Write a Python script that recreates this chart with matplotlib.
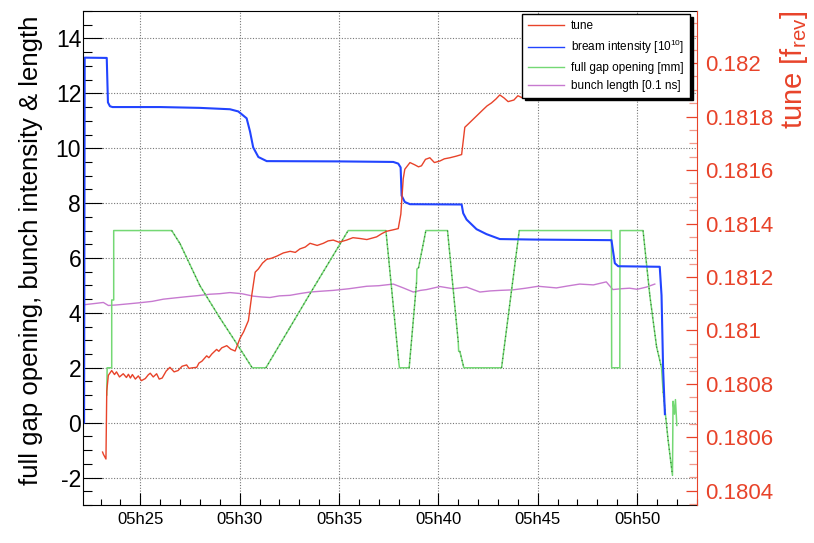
import matplotlib
matplotlib.use("Agg")
import matplotlib.pyplot as plt
from matplotlib.lines import Line2D
from matplotlib.ticker import MultipleLocator, FuncFormatter

plt.rcParams['font.family'] = ['Liberation Sans', 'DejaVu Sans']
plt.rcParams['mathtext.default'] = 'regular'
plt.rcParams['axes.unicode_minus'] = False

# =========================
# data (time in minutes after 05h00)
# =========================
blue_t = [22.17, 22.2, 23.31, 23.37, 23.47, 23.6, 26.0, 28.0, 29.51, 29.93, 30.35,
          30.52, 30.68, 30.94, 31.36, 35.0, 37.73, 37.98, 38.1, 38.15, 38.31,
          38.57, 41.17, 41.25, 41.42, 41.92, 42.42, 43.09, 45.0, 48.71, 48.88,
          49.05, 51.14, 51.23, 51.31, 51.40]
blue_v = [0.0, 13.3, 13.29, 11.67, 11.53, 11.5, 11.5, 11.47, 11.42, 11.34, 11.09,
          10.61, 10.03, 9.68, 9.53, 9.52, 9.5, 9.44, 9.3, 8.27, 8.04,
          7.96, 7.95, 7.63, 7.40, 7.05, 6.87, 6.69, 6.67, 6.65, 5.81,
          5.70, 5.68, 4.64, 1.95, 0.31]

green_t = [23.31, 23.33, 23.56, 23.56, 23.66, 23.66, 26.58, 27.0, 28.0, 29.0, 29.85,
           30.63, 31.32, 32.53, 33.54, 35.46, 37.36, 38.01, 38.04, 38.53, 38.9,
           38.92, 39.0, 39.37, 40.46, 41.0, 41.02, 41.08, 41.28, 43.18, 44.07,
           48.71, 48.72, 49.13, 49.14, 50.30, 50.64, 50.98, 51.23, 51.31, 51.56,
           51.78, 51.81, 51.88, 51.93, 52.0]
green_v = [1.01, 2.0, 2.0, 4.47, 4.47, 7.0, 7.0, 6.52, 4.99, 3.82, 2.88,
           2.0, 2.0, 3.47, 4.70, 7.0, 7.0, 2.18, 2.0, 2.0, 5.1,
           5.6, 5.64, 7.0, 7.0, 2.94, 2.6, 2.6, 2.0, 2.0, 7.0,
           7.0, 2.0, 2.0, 7.0, 7.0, 4.64, 2.77, 2.0, 1.13, -0.63,
           -1.92, 0.78, 0.31, 0.84, -0.1]

purple_t = [22.2, 22.8, 23.14, 23.39, 23.81, 24.4, 24.98, 25.6, 26.16, 26.8, 27.33,
            27.9, 28.5, 29.0, 29.51, 30.1, 30.68, 31.1, 31.52, 32.0, 32.53, 33.0,
            33.54, 34.1, 34.71, 35.5, 36.39, 37.0, 37.73, 38.2, 38.74, 39.1, 39.41,
            40.08, 40.75, 41.42, 42.09, 42.6, 43.09, 43.76, 44.4, 45.02, 45.94,
            46.5, 47.11, 47.8, 48.45, 48.78, 49.2, 49.62, 50.0, 50.47, 50.89]
purple_v = [4.30, 4.35, 4.38, 4.27, 4.29, 4.33, 4.37, 4.42, 4.50, 4.55, 4.59,
            4.63, 4.68, 4.70, 4.74, 4.70, 4.61, 4.58, 4.56, 4.62, 4.64, 4.70,
            4.76, 4.79, 4.82, 4.88, 4.97, 4.99, 5.05, 4.92, 4.76, 4.82, 4.85,
            4.96, 4.88, 4.94, 4.76, 4.80, 4.82, 4.84, 4.90, 4.97, 4.91,
            4.98, 5.05, 5.02, 5.13, 4.85, 4.88, 4.90, 4.86, 4.94, 5.05]

tune_t = [23.10, 23.14, 23.27, 23.31, 23.39, 23.56, 23.7, 23.8, 23.95, 24.14, 24.3,
          24.4, 24.5, 24.6, 24.75, 24.9, 25.05, 25.25, 25.4, 25.5, 25.65, 25.82,
          25.95, 26.1, 26.3, 26.49, 26.7, 26.9, 27.1, 27.33, 27.45, 27.6, 27.84,
          27.95, 28.1, 28.34, 28.45, 28.6, 28.84, 28.95, 29.1, 29.35, 29.55, 29.77,
          30.02, 30.2, 30.44, 30.61, 30.78, 30.94, 31.15, 31.36, 31.6, 31.87,
          32.2, 32.54, 32.8, 33.03, 33.3, 33.54, 33.9, 34.21, 34.45, 34.71,
          35.0, 35.38, 35.7, 36.05, 36.4, 36.89, 37.15, 37.39, 37.7, 37.98,
          38.11, 38.23, 38.31, 38.57, 38.8, 39.0, 39.15, 39.35, 39.57, 39.8,
          40.08, 40.3, 40.58, 40.9, 41.17, 41.33, 41.5, 41.75, 42.0, 42.25,
          42.45, 42.67, 42.9, 43.09, 43.3, 43.51, 43.8, 44.0, 44.26, 44.6,
          45.02, 45.2, 45.44, 45.7, 46.03, 46.28, 46.53, 46.8]
tune_v = [0.180545, 0.180537, 0.180519, 0.180772, 0.180832, 0.180850, 0.180835, 0.180845, 0.180826, 0.180838, 0.180824,
          0.180836, 0.180822, 0.180835, 0.180818, 0.180830, 0.180812, 0.180820, 0.180834, 0.180840, 0.180826, 0.180838,
          0.180818, 0.180822, 0.180848, 0.180862, 0.180845, 0.180850, 0.180866, 0.180871, 0.180858, 0.180860, 0.180862,
          0.180878, 0.180885, 0.180905, 0.180898, 0.180912, 0.180929, 0.180922, 0.180935, 0.180943, 0.180930, 0.180923,
          0.180971, 0.180995, 0.181037, 0.181133, 0.181218, 0.181230, 0.181252, 0.181266, 0.181270, 0.181278,
          0.181290, 0.181296, 0.181292, 0.181305, 0.181312, 0.181326, 0.181318, 0.181326, 0.181335, 0.181338,
          0.181330, 0.181338, 0.181347, 0.181344, 0.181340, 0.181350, 0.181362, 0.181371, 0.181376, 0.181381,
          0.181435, 0.181567, 0.181603, 0.181628, 0.181620, 0.181612, 0.181616, 0.181640, 0.181646, 0.181628,
          0.181634, 0.181642, 0.181646, 0.181652, 0.181658, 0.181760, 0.181772, 0.181790, 0.181808, 0.181826,
          0.181840, 0.181851, 0.181866, 0.181881, 0.181870, 0.181856, 0.181862, 0.181878, 0.181869, 0.181882,
          0.181905, 0.181896, 0.181887, 0.181902, 0.181923, 0.181887, 0.181917, 0.181935]

legend_labels = ['tune', 'bream intensity [10$^{10}$]', 'full gap opening [mm]', 'bunch length [0.1 ns]']

RED = '#e8432a'
BLUE = '#2244ff'
GREEN = '#74d874'
PURPLE = '#c77ad0'

# =========================
# figure
# =========================
fig = plt.figure(figsize=(8.14, 5.43), dpi=100)
ax = fig.add_axes([83.3 / 814, 1 - 505 / 543, 613.4 / 814, 494 / 543])
ax2 = ax.twinx()

ax.plot(purple_t, purple_v, color=PURPLE, lw=1.0)
ax.plot(green_t, green_v, color=GREEN, lw=1.1)
# sloped parts of the gap trace look dotted-dark in the original
for i in range(len(green_t) - 1):
    dt = green_t[i + 1] - green_t[i]
    dv = green_v[i + 1] - green_v[i]
    if dt > 0.1 and abs(dv) > 0.3:
        ax.plot(green_t[i:i + 2], green_v[i:i + 2], color='#2d6e2d',
                lw=0.8, linestyle=(0, (1, 3)))
ax.plot(blue_t, blue_v, color=BLUE, lw=1.5)
ax2.plot(tune_t, tune_v, color=RED, lw=1.0)

ax.set_xlim(22.13, 53.0)
ax.set_ylim(-3, 15)
ax2.set_ylim(0.180347, 0.182195)

ax.xaxis.set_major_locator(MultipleLocator(5))
ax.xaxis.set_minor_locator(MultipleLocator(1))
ax.xaxis.set_major_formatter(FuncFormatter(lambda v, p: '05h%02d' % v))
ax.yaxis.set_major_locator(MultipleLocator(2))
ax.yaxis.set_minor_locator(MultipleLocator(0.5))
ax2.yaxis.set_major_locator(MultipleLocator(0.0002))
ax2.yaxis.set_minor_locator(MultipleLocator(0.00005))
ax2.yaxis.set_major_formatter(FuncFormatter(lambda v, p: ('%.4f' % v).rstrip('0')))

ax.tick_params(axis='x', which='major', direction='in', length=8.5, width=0.8, labelsize=12, pad=5)
ax.tick_params(axis='x', which='minor', direction='in', length=4.3, width=0.8)
ax.tick_params(axis='y', which='major', direction='in', length=14, width=0.8, labelsize=16.5, pad=1.5)
ax.tick_params(axis='y', which='minor', direction='in', length=6.5, width=0.8)
ax2.tick_params(axis='y', which='major', direction='in', length=8, width=0.9, color=RED,
                labelcolor=RED, labelsize=16, pad=6)
ax2.tick_params(axis='y', which='minor', direction='in', length=5.5, width=0.9, color='#f09a8c')

ax.grid(True, which='major', linestyle=(0, (1, 1.5)), color='#777777', lw=0.8)
ax.set_axisbelow(True)

ax.spines['right'].set_visible(False)
ax2.spines['right'].set_color(RED)
for s in ['left', 'top', 'bottom']:
    ax2.spines[s].set_visible(False)

ax.set_ylabel('full gap opening, bunch intensity & length', fontsize=18.5)
ax.yaxis.set_label_coords(-0.066, 0.515)
ax2.set_ylabel('tune [f$_{rev}$]', fontsize=21, color=RED, loc='top')
ax2.yaxis.set_label_coords(1.133, 1.0)

handles = [Line2D([], [], color=RED, lw=1.0), Line2D([], [], color=BLUE, lw=1.0),
           Line2D([], [], color=GREEN, lw=1.0), Line2D([], [], color=PURPLE, lw=1.0)]
leg = ax2.legend(handles, legend_labels, loc='upper right', bbox_to_anchor=(0.989, 0.994),
                 borderaxespad=0, fontsize=8.5, fancybox=False, edgecolor='black', framealpha=1,
                 shadow={'color': 'black', 'alpha': 1.0}, handlelength=3.0,
                 labelspacing=0.5, borderpad=0.5, handletextpad=0.6)
leg.get_frame().set_linewidth(1.0)

fig.savefig('out.png', dpi=100)
